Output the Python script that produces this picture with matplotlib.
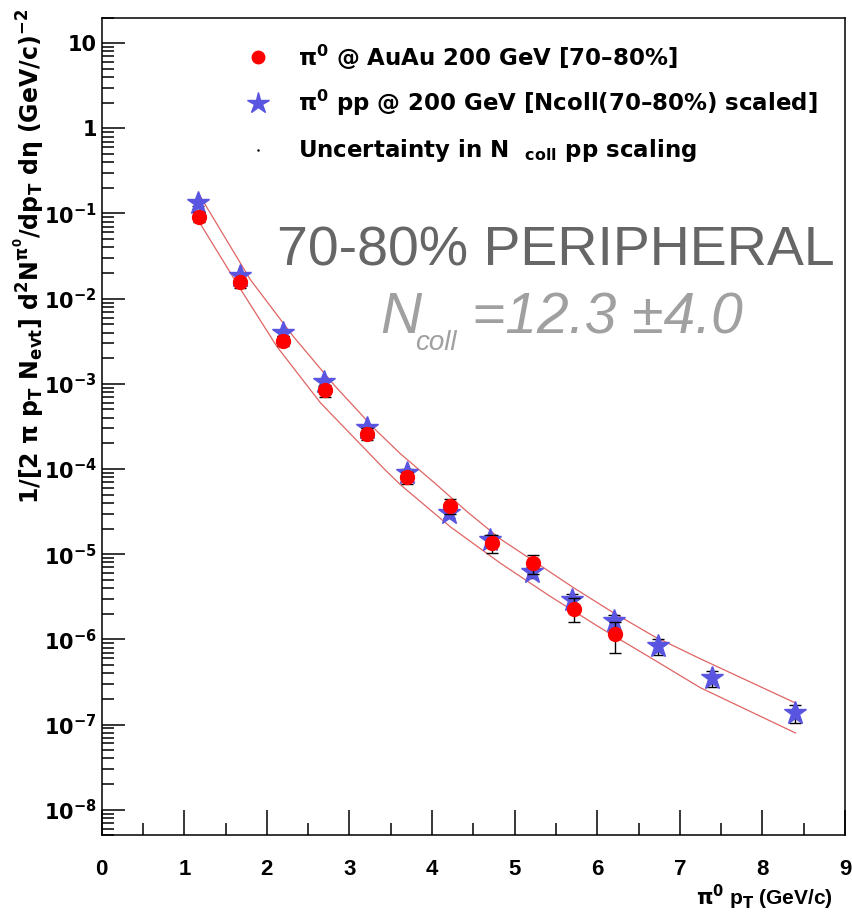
"""pi0 invariant yield in 70-80% peripheral AuAu vs Ncoll-scaled pp, ROOT-style log plot."""
import matplotlib
matplotlib.use("Agg")
import matplotlib.pyplot as plt
from matplotlib.ticker import (FixedFormatter, FixedLocator, LogLocator,
                               MultipleLocator, NullFormatter)

# AuAu 200 GeV, 70-80% centrality
AUAU_PT = [1.18, 1.68, 2.20, 2.70, 3.21, 3.70, 4.22, 4.73, 5.22, 5.72, 6.22]
AUAU_Y = [9.1e-2, 1.55e-2, 3.2e-3, 8.4e-4, 2.6e-4, 8.0e-5, 3.7e-5, 1.35e-5, 7.9e-6, 2.3e-6, 1.16e-6]
AUAU_ERR = [1.2e-2, 2.0e-3, 4.5e-4, 1.3e-4, 4.0e-5, 1.3e-5, 7.5e-6, 3.2e-6, 2.0e-6, 7.2e-7, 4.6e-7]

# pp 200 GeV scaled by Ncoll(70-80%)
PP_PT = [1.16, 1.68, 2.19, 2.69, 3.21, 3.70, 4.20, 4.70, 5.21, 5.70, 6.20, 6.73, 7.39, 8.39]
PP_Y = [1.32e-1, 1.86e-2, 4.0e-3, 1.04e-3, 3.03e-4, 8.97e-5, 3.05e-5, 1.45e-5, 6.1e-6,
        2.93e-6, 1.63e-6, 8.3e-7, 3.52e-7, 1.37e-7]
PP_ERR = [1.0e-2, 1.5e-3, 3.2e-4, 8.5e-5, 2.5e-5, 9e-6, 3.7e-6, 2.2e-6, 9e-7,
          4.4e-7, 2.9e-7, 1.7e-7, 7.7e-8, 3.2e-8]

# Ncoll scaling uncertainty band (upper / lower edges)
BAND_UP_PT = [1.17, 1.80, 2.32, 2.83, 3.31, 3.62, 4.02, 4.42, 4.83, 5.23, 5.72, 6.20, 6.69, 7.25, 8.40]
BAND_UP_Y = [1.73e-1, 1.67e-2, 3.6e-3, 9.3e-4, 2.92e-4, 1.5e-4, 7.0e-5, 3.18e-5, 1.5e-5, 8.3e-6,
             4.0e-6, 2.04e-6, 1.08e-6, 5.9e-7, 1.79e-7]
BAND_LO_PT = [1.20, 1.66, 2.12, 2.65, 3.43, 3.62, 4.22, 4.83, 5.43, 6.04, 6.65, 7.25, 8.40]
BAND_LO_Y = [7.4e-2, 1.39e-2, 2.75e-3, 5.96e-4, 9.8e-5, 6.5e-5, 2.1e-5, 7.8e-6, 3.2e-6,
             1.36e-6, 6.05e-7, 2.7e-7, 7.96e-8]

Y_TICKS = [1e-8, 1e-7, 1e-6, 1e-5, 1e-4, 1e-3, 1e-2, 1e-1, 1, 10]
Y_TICK_LABELS = [r"$10^{-8}$", r"$10^{-7}$", r"$10^{-6}$", r"$10^{-5}$", r"$10^{-4}$",
                 r"$10^{-3}$", r"$10^{-2}$", r"$10^{-1}$", "1", "10"]

plt.rcParams["font.family"] = ["Liberation Sans", "DejaVu Sans"]
plt.rcParams["font.weight"] = "bold"
plt.rcParams["mathtext.fontset"] = "custom"
plt.rcParams["mathtext.rm"] = "DejaVu Sans:bold"
plt.rcParams["mathtext.bf"] = "DejaVu Sans:bold"
plt.rcParams["mathtext.sf"] = "DejaVu Sans:bold"
plt.rcParams["mathtext.it"] = "DejaVu Sans:bold"
plt.rcParams["mathtext.default"] = "bf"

STAR = "#5a55e0"
BAND = "#e06464"
WIDE = ["DejaVu Sans"]

fig = plt.figure(figsize=(8.52, 9.22), dpi=100)
ax = fig.add_axes([0.1194, 0.094, 0.8724, 0.887])
ax.set_yscale("log")
ax.set_xlim(0, 9)
ax.set_ylim(5e-9, 20)

# band
ax.plot(BAND_UP_PT, BAND_UP_Y, color=BAND, lw=0.9, zorder=2)
ax.plot(BAND_LO_PT, BAND_LO_Y, color=BAND, lw=0.9, zorder=2)

# data
ax.errorbar(PP_PT, PP_Y, yerr=PP_ERR, fmt="*", ms=17, color=STAR, mec=STAR,
            ecolor="black", elinewidth=1.0, capsize=4, capthick=1.0, zorder=3)
ax.errorbar(AUAU_PT, AUAU_Y, yerr=AUAU_ERR, fmt="o", ms=10, color="red", mec="red",
            ecolor="black", elinewidth=1.0, capsize=4, capthick=1.0, zorder=4)

# axes / ticks, ROOT style
for s in ax.spines.values():
    s.set_linewidth(1.1)
ax.xaxis.set_major_locator(MultipleLocator(1))
ax.xaxis.set_minor_locator(MultipleLocator(0.5))
ax.yaxis.set_major_locator(FixedLocator(Y_TICKS))
ax.yaxis.set_major_formatter(FixedFormatter(Y_TICK_LABELS))
ax.yaxis.set_minor_locator(LogLocator(base=10, subs=range(2, 10), numticks=40))
ax.yaxis.set_minor_formatter(NullFormatter())
ax.tick_params(which="both", direction="in", top=False, right=False, width=1.1)
ax.tick_params(axis="x", which="major", length=18, pad=17, labelsize=16)
ax.tick_params(axis="x", which="minor", length=8.6)
ax.tick_params(axis="y", which="major", length=16.5, pad=3.5, labelsize=15)
ax.tick_params(axis="y", which="minor", length=8.6)
for lab in ax.get_yticklabels():
    lab.set_family(WIDE)

# legend (no frame, ROOT TLegend look)
leg_x, txt_x = 0.210, 0.264
ax.plot([leg_x], [0.9515], "o", color="red", ms=9, transform=ax.transAxes, clip_on=False)
ax.plot([leg_x], [0.8952], "*", color=STAR, ms=16, transform=ax.transAxes, clip_on=False)
ax.plot([leg_x], [0.8378], ".", color="black", ms=1.5, transform=ax.transAxes, clip_on=False)
ax.text(txt_x, 0.9515, r"$\pi^{0}$ @ AuAu 200 GeV [70–80%]", transform=ax.transAxes,
        fontsize=16.5, va="center", family=WIDE)
ax.text(txt_x, 0.8952, r"$\pi^{0}$ pp @ 200 GeV [Ncoll(70–80%) scaled]", transform=ax.transAxes,
        fontsize=16.5, va="center", family=WIDE)
ax.text(txt_x, 0.8378, r"Uncertainty in N  $_{coll}$ pp scaling", transform=ax.transAxes,
        fontsize=16.5, va="center", family=WIDE)

ax.text(0.9866, 0.697, "70-80% PERIPHERAL", transform=ax.transAxes, ha="right",
        va="baseline", fontsize=40, color="#666666", fontweight="normal")
ncoll_style = dict(transform=ax.transAxes, va="baseline", color="#a0a0a0",
                   fontweight="normal", fontstyle="italic")
ax.text(0.3744, 0.614, "N", fontsize=41, **ncoll_style)
ax.text(0.422, 0.5934, "coll", fontsize=20, **ncoll_style)
ax.text(0.498, 0.614, "=12.3 ±4.0", fontsize=41, **ncoll_style)

fig.text(833 / 852, 1 - 905 / 922, r"$\pi^{0}$ p$_{T}$ (GeV/c)", ha="right", va="baseline",
         fontsize=15)
fig.text(0.033, 0.991,
         r"1/[2 $\pi$ p$_{T}$ N$_{evt}$] d$^{2}$N$^{\pi^{0}}$/dp$_{T}$ d$\eta$ (GeV/c)$^{-2}$",
         rotation=90, ha="center", va="top", fontsize=17, family=WIDE)

fig.savefig("out.png", dpi=100)
